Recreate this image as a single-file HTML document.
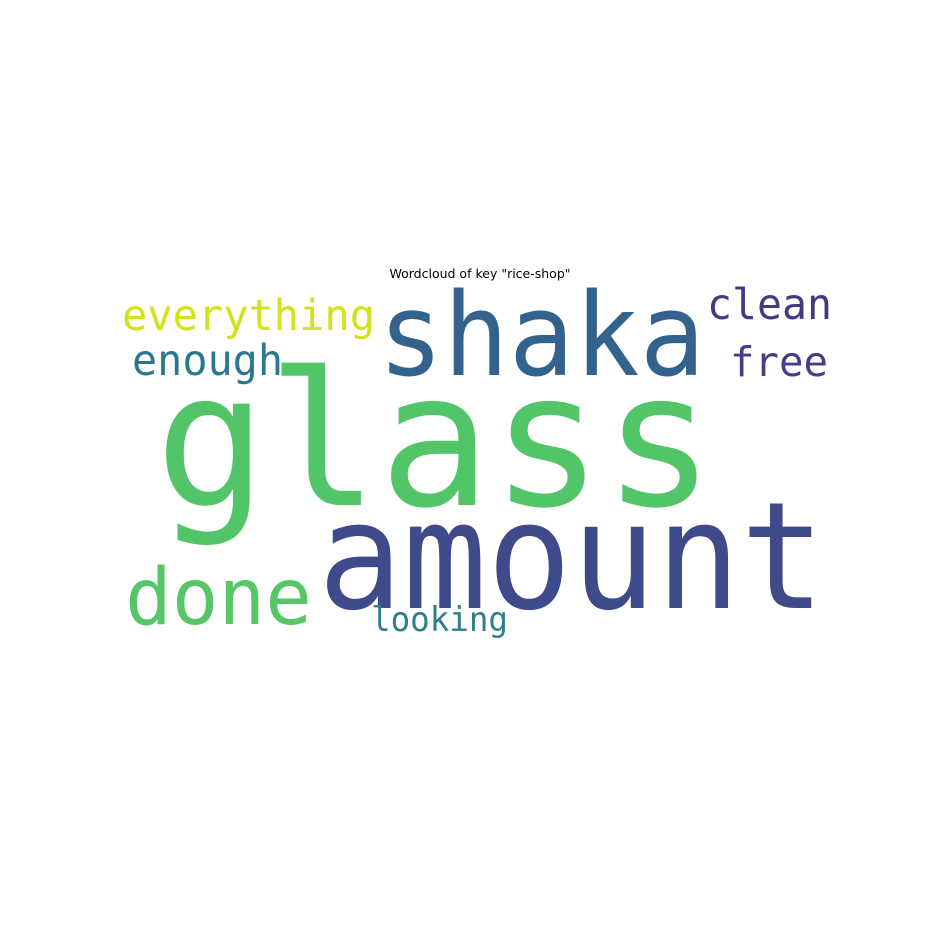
<!DOCTYPE html>
<html><head><meta charset="utf-8"><style>
html,body{margin:0;padding:0;background:#fff;width:936px;height:936px;overflow:hidden}
</style></head><body>
<svg id="wc" width="936" height="936" xmlns="http://www.w3.org/2000/svg">
<rect width="936" height="936" fill="#fff"/>
<text x="480" y="278" text-anchor="middle" font-family="DejaVu Sans, Liberation Sans, sans-serif" font-size="12.5" fill="#000">Wordcloud of key "rice-shop"</text>
</svg>
<script>
const words = ["glass","amount","shaka","done","everything","enough","clean","free","looking"];
const weights = [1.0, 0.8, 0.62, 0.42, 0.23, 0.23, 0.23, 0.22, 0.18];
const colors = ["#52c569","#3e4a89","#33638d","#56c667","#d2e21b","#2a788e","#48387f","#4a3a87","#2f7e8e"];
const xs = [155, 318, 378, 125, 122, 132, 707, 730, 371];
const ys = [505, 608, 375, 624, 330, 375, 319, 376, 631];
const widths = [560, 507, 327, 187, 253, 151, 125, 98, 137];
const maxSize = 186;
const svg = document.getElementById('wc');
words.forEach((w, i) => {
  const t = document.createElementNS('http://www.w3.org/2000/svg', 'text');
  
  
  t.setAttribute('x', xs[i]);
  t.setAttribute('y', ys[i]);
  t.setAttribute('font-family', 'DejaVu Sans Mono, Liberation Mono, monospace');
  t.setAttribute('font-size', (weights[i] * maxSize).toFixed(1));
  t.setAttribute('fill', colors[i]);
  t.setAttribute('textLength', widths[i]);
  t.setAttribute('lengthAdjust', 'spacingAndGlyphs');
  t.textContent = w;
  svg.appendChild(t);
});
</script>
</body></html>
